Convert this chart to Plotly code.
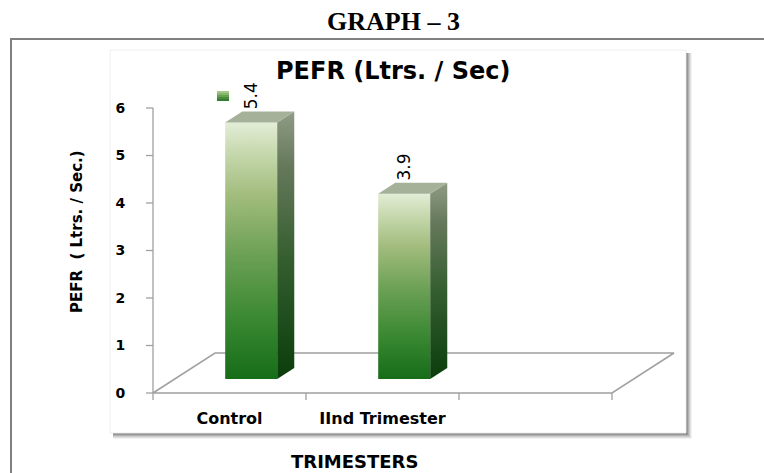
import plotly.graph_objects as go

# ---- data ----
categories = ["Control", "IInd Trimester"]
pefr = [5.4, 3.9]
y_ticks = [0, 1, 2, 3, 4, 5, 6]
n_slots = 3  # the category axis has one empty slot on the right

# ---- page geometry (pixels) ----
W, H = 764, 473
L, R, T, B = 138, 76, 94, 66
X0, SX = 153, 153.0      # pixel of x = -0.5 and pixels per category
Y0, SY = 393, 47.5       # pixel of y = 0 and pixels per unit

x_range = [-0.5 - (X0 - L) / SX, -0.5 + (W - R - X0) / SX]
y_range = [-(H - B - Y0) / SY, (Y0 - T) / SY]

# pseudo-3D floor depth and bar placement inside that depth
DEPTH_X = 62 / SX
DEPTH_Y = 40 / SY
FRONT, BACK = 0.35, 0.625
HALF_W = 0.17

AXIS_GREY = "#a0a0a0"
SANS = "DejaVu Sans"


def pxx(p):
    return (p - L) / (W - L - R)


def pxy(p):
    return (H - B - p) / (H - T - B)


fig = go.Figure()

# floor of the 3-D plot area
fx0, fx1 = -0.5, n_slots - 0.5
fig.add_trace(go.Scatter(
    x=[fx0, fx1, fx1 + DEPTH_X, fx0 + DEPTH_X, fx0],
    y=[0, 0, DEPTH_Y, DEPTH_Y, 0],
    mode="lines", line=dict(color=AXIS_GREY, width=1.5),
    hoverinfo="skip", showlegend=False))

# value axis line with its tick marks
tick_dx = 7 / SX
ax_x, ax_y = [fx0, fx0, None], [0, max(y_ticks), None]
for t in y_ticks:
    ax_x += [fx0 - tick_dx, fx0, None]
    ax_y += [t, t, None]
fig.add_trace(go.Scatter(
    x=ax_x, y=ax_y, mode="lines", line=dict(color=AXIS_GREY, width=1.3),
    hoverinfo="skip", showlegend=False))

# category boundary tick marks below the floor edge
tick_dy = 7 / SY
bx, by = [], []
for k in range(n_slots + 1):
    bx += [k - 0.5, k - 0.5, None]
    by += [0, -tick_dy, None]
fig.add_trace(go.Scatter(
    x=bx, y=by, mode="lines", line=dict(color=AXIS_GREY, width=1.3),
    hoverinfo="skip", showlegend=False))

front_scale = [[0.0, "#166d18"], [0.25, "#3d8a34"], [0.5, "#6fa257"],
               [0.72, "#a3bd7e"], [0.88, "#c6d8ad"], [1.0, "#e3edd6"]]
side_scale = [[0.0, "#0b3d0b"], [0.45, "#355e30"], [0.8, "#66795b"],
              [1.0, "#909c86"]]
top_color = "#a6b19a"

ox, oy = FRONT * DEPTH_X, FRONT * DEPTH_Y
dx, dy = (BACK - FRONT) * DEPTH_X, (BACK - FRONT) * DEPTH_Y

for i, v in enumerate(pefr):
    x0, x1 = i - HALF_W + ox, i + HALF_W + ox
    # front face
    fig.add_trace(go.Scatter(
        x=[x0, x1, x1, x0, x0], y=[oy, oy, oy + v, oy + v, oy],
        mode="lines", fill="toself", line=dict(width=0),
        fillgradient=dict(type="vertical", colorscale=front_scale),
        hoverinfo="skip", showlegend=False))
    # right side face
    fig.add_trace(go.Scatter(
        x=[x1, x1 + dx, x1 + dx, x1, x1],
        y=[oy, oy + dy, oy + dy + v, oy + v, oy],
        mode="lines", fill="toself", line=dict(width=0),
        fillgradient=dict(type="vertical", colorscale=side_scale),
        hoverinfo="skip", showlegend=False))
    # top face
    fig.add_trace(go.Scatter(
        x=[x0, x1, x1 + dx, x0 + dx, x0],
        y=[oy + v, oy + v, oy + v + dy, oy + v + dy, oy + v],
        mode="lines", fill="toself", fillcolor=top_color, line=dict(width=0),
        hoverinfo="skip", showlegend=False))

annotations = []
for i, v in enumerate(pefr):
    annotations.append(dict(
        x=i + ox, y=oy + v + dy, xref="x", yref="y",
        text=f"{v:.1f}", textangle=-90, showarrow=False,
        xanchor="center", yanchor="bottom",
        font=dict(family=SANS, size=17, color="#000000")))

annotations += [
    dict(x=pxx(393), y=pxy(22), xref="paper", yref="paper",
         text="<b>GRAPH – 3</b>", showarrow=False,
         xanchor="center", yanchor="middle",
         font=dict(family="Liberation Serif", size=26, color="#000000")),
    dict(x=pxx(393), y=pxy(71), xref="paper", yref="paper",
         text="<b>PEFR (Ltrs. / Sec)</b>", showarrow=False,
         xanchor="center", yanchor="middle",
         font=dict(family=SANS, size=24, color="#000000")),
    dict(x=pxx(77), y=pxy(232), xref="paper", yref="paper",
         text="<b>PEFR\u00a0 ( Ltrs. / Sec.)</b>", showarrow=False,
         textangle=-90, xanchor="center", yanchor="middle",
         font=dict(family=SANS, size=15, color="#000000")),
    dict(x=pxx(354), y=pxy(461), xref="paper", yref="paper",
         text="<b>TRIMESTERS</b>", showarrow=False,
         xanchor="center", yanchor="middle",
         font=dict(family=SANS, size=18, color="#000000")),
]

shapes = []
# outer frame (left and top edges)
shapes.append(dict(type="path", xref="paper", yref="paper",
                   path=f"M {pxx(11)},{pxy(480)} L {pxx(11)},{pxy(39)} L {pxx(770)},{pxy(39)}",
                   line=dict(color="#808080", width=2), layer="below"))
# drop shadow of the chart area
box = (110, 50, 686, 433)
for k, a in [(6, 0.05), (5, 0.07), (4, 0.09), (3, 0.12), (2, 0.15), (1, 0.18)]:
    shapes.append(dict(type="rect", xref="paper", yref="paper",
                       x0=pxx(box[0] + 3), y0=pxy(box[3] + k),
                       x1=pxx(box[2] + k), y1=pxy(box[1] + 3),
                       fillcolor=f"rgba(0,0,0,{a})", line=dict(width=0),
                       layer="below"))
shapes.append(dict(type="rect", xref="paper", yref="paper",
                   x0=pxx(box[0]), y0=pxy(box[3]), x1=pxx(box[2]), y1=pxy(box[1]),
                   fillcolor="#ffffff", line=dict(color="#eeeeee", width=1),
                   layer="below"))
# legend key
key_cols = ["#a3c98a", "#86b56c", "#67a052", "#4a8c3e", "#337c30"]
kx0, kx1, ky0, ky1 = 217, 229, 91, 101
step = (ky1 - ky0) / len(key_cols)
for j, c in enumerate(key_cols):
    shapes.append(dict(type="rect", xref="paper", yref="paper",
                       x0=pxx(kx0), x1=pxx(kx1),
                       y0=pxy(ky0 + (j + 1) * step), y1=pxy(ky0 + j * step),
                       fillcolor=c, line=dict(width=0), layer="above"))

fig.update_layout(
    width=W, height=H,
    margin=dict(l=L, r=R, t=T, b=B, pad=0),
    paper_bgcolor="#ffffff", plot_bgcolor="rgba(0,0,0,0)",
    showlegend=False,
    annotations=annotations, shapes=shapes,
    xaxis=dict(range=x_range, tickmode="array",
               tickvals=list(range(len(categories))), ticktext=categories,
               ticks="", showgrid=False, zeroline=False, showline=False,
               fixedrange=True,
               tickfont=dict(family=SANS, size=16, color="#000000",
                             weight="bold")),
    yaxis=dict(range=y_range, tickmode="array", tickvals=y_ticks,
               ticks="outside", ticklen=9, tickcolor="rgba(0,0,0,0)",
               showgrid=False, zeroline=False, showline=False, fixedrange=True,
               tickfont=dict(family=SANS, size=14, color="#000000",
                             weight="bold")),
)

fig.write_html("out.html", config={"displayModeBar": False})
